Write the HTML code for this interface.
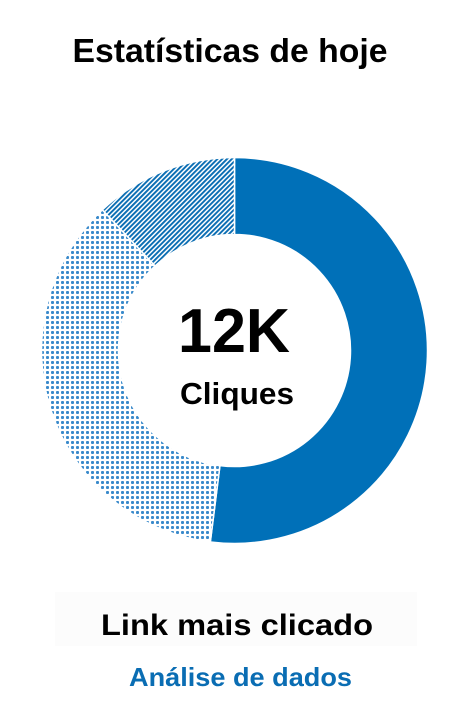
<!DOCTYPE html>
<html><head><meta charset="utf-8"><style>
html,body{margin:0;padding:0;background:#fff;}
svg{display:block;font-family:"Liberation Sans",sans-serif;font-weight:bold;}
</style></head><body>
<svg width="473" height="727" viewBox="0 0 473 727">
<defs>
<pattern id="hatch" patternUnits="userSpaceOnUse" width="3.4" height="3.4" patternTransform="rotate(45)">
<rect width="3.4" height="3.4" fill="#fff"/>
<rect x="0" y="0" width="1.9" height="3.4" fill="#0a6db3"/>
</pattern>
<pattern id="dots" patternUnits="userSpaceOnUse" width="5" height="5">
<rect width="5" height="5" fill="#fff"/>
<rect x="1.5" y="1" width="2" height="3" fill="#3a8acb"/>
<rect x="1" y="1.5" width="3" height="2" fill="#3a8acb"/>
</pattern>
</defs>
<text x="230" y="62" text-anchor="middle" font-size="33" textLength="315" lengthAdjust="spacingAndGlyphs" fill="#000">Estatísticas de hoje</text>
<g id="donut"></g>
<text x="234" y="352" text-anchor="middle" font-size="62" textLength="112" lengthAdjust="spacingAndGlyphs" fill="#000">12K</text>
<text x="237" y="404" text-anchor="middle" font-size="31" textLength="114" lengthAdjust="spacingAndGlyphs" fill="#000">Cliques</text>
<rect x="55" y="592" width="362" height="54" fill="#fcfcfc"/>
<text x="237" y="635" text-anchor="middle" font-size="30" textLength="272" lengthAdjust="spacingAndGlyphs" fill="#000">Link mais clicado</text>
<text x="240.5" y="686" text-anchor="middle" font-size="26" textLength="223" lengthAdjust="spacingAndGlyphs" fill="#0a6db3">Análise de dados</text>
</svg>
<script>
const categories = ["Link A", "Link B", "Link C"];
const values = [52, 36, 12];
const fills = ["#0070b8", "url(#dots)", "url(#hatch)"];
const cx = 234.5, cy = 350.5, R = 193, r = 116;
const total = values.reduce((a, b) => a + b, 0);
function angleScale(v) { return v / total * 2 * Math.PI; }
function pt(rad, a) { return [cx + rad * Math.sin(a), cy - rad * Math.cos(a)]; }
const g = document.getElementById('donut');
let start = 0;
values.forEach((v, i) => {
  const end = start + angleScale(v);
  const large = end - start > Math.PI ? 1 : 0;
  const [x1, y1] = pt(R, start), [x2, y2] = pt(R, end);
  const [x3, y3] = pt(r, end), [x4, y4] = pt(r, start);
  const p = document.createElementNS('http://www.w3.org/2000/svg', 'path');
  p.setAttribute('d', `M${x1},${y1} A${R},${R} 0 ${large} 1 ${x2},${y2} L${x3},${y3} A${r},${r} 0 ${large} 0 ${x4},${y4} Z`);
  p.setAttribute('fill', fills[i]);
  p.setAttribute('stroke', '#fff');
  p.setAttribute('stroke-width', '1.5');
  
  
  g.appendChild(p);
  start = end;
});
</script>
</body></html>
